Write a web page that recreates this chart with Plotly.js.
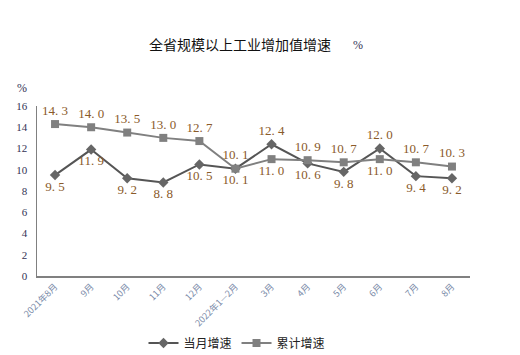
<!DOCTYPE html>
<html><head><meta charset="utf-8">
<script src="https://cdn.plot.ly/plotly-3.0.1.min.js"></script>
<style>body{margin:0;background:#fff}#c{width:520px;height:355px}</style>
</head><body><div id="c"></div>
<script>
const categories = ['2021年8月','9月','10月','11月','12月','2022年1—2月','3月','4月','5月','6月','7月','8月'];
const monthly = [9.5, 11.9, 9.2, 8.8, 10.5, 10.1, 12.4, 10.6, 9.8, 12.0, 9.4, 9.2];
const cumulative = [14.3, 14.0, 13.5, 13.0, 12.7, 10.1, 11.0, 10.9, 10.7, 11.0, 10.7, 10.3];
const monthlyPos = ['bottom','bottom','bottom','bottom','bottom','bottom','top','bottom','bottom','top','bottom','bottom'];
const cumulativePos = ['top','top','top','top','top','top','bottom','top','top','bottom','top','top'];
const fmt = v => v.toFixed(1).replace('.', '. ');
const labelFont = {family:'Liberation Serif, DejaVu Serif, serif', size:13, color:'#8a5a2a'};
const traces = [
 {x:categories, y:monthly, name:'当月增速', type:'scatter', mode:'lines+markers+text',
  line:{color:'#555555', width:2}, marker:{symbol:'diamond', size:8, color:'#666666'},
  text:monthly.map(fmt), textposition:monthlyPos.map(p=>p+' center'), textfont:labelFont, cliponaxis:false},
 {x:categories, y:cumulative, name:'累计增速', type:'scatter', mode:'lines+markers+text',
  line:{color:'#808080', width:2}, marker:{symbol:'square', size:8, color:'#808080'},
  text:cumulative.map(fmt), textposition:cumulativePos.map(p=>p+' center'), textfont:labelFont, cliponaxis:false}
];
const layout = {
 width:520, height:355, margin:{l:37, r:50, t:106, b:79},
 paper_bgcolor:'#fff', plot_bgcolor:'#fff', showlegend:true,
 title:{text:'全省规模以上工业增加值增速', x:240/520, xanchor:'center', y:1-45/355, yanchor:'middle',
   font:{family:'Noto Sans CJK SC', size:14, color:'#111'}},
 xaxis:{type:'category', range:[-0.5,11.5], showline:true, linecolor:'#808080', linewidth:2,
   showgrid:false, zeroline:false, ticks:'', tickangle:-45, automargin:false,
   tickfont:{family:'Noto Sans CJK SC', size:9, color:'#7a8aa8'}},
 yaxis:{range:[0,16], dtick:2, showline:true, linecolor:'#808080', linewidth:1.5,
   showgrid:false, zeroline:false, ticks:'', ticklabelstandoff:6, automargin:false,
   tickfont:{family:'Liberation Serif, serif', size:11, color:'#333355'}},
 legend:{orientation:'h', x:237/520, xanchor:'center', xref:'container', yref:'container', y:(355-343)/355, yanchor:'middle',
   font:{family:'Noto Sans CJK SC', size:12, color:'#222'}, itemwidth:30},
 annotations:[
  {text:'%', xref:'paper', yref:'paper', x:(358-37)/433, y:(355-45-79)/170, xanchor:'center', yanchor:'middle',
   showarrow:false, font:{family:'Liberation Serif, serif', size:12, color:'#333355'}},
  {text:'%', xref:'paper', yref:'paper', x:(22-37)/433, y:(355-88-79)/170, xanchor:'center', yanchor:'middle',
   showarrow:false, font:{family:'Liberation Serif, serif', size:12, color:'#333355'}}
 ]
};
Plotly.newPlot('c', traces, layout, {displayModeBar:false, staticPlot:true});
</script></body></html>
